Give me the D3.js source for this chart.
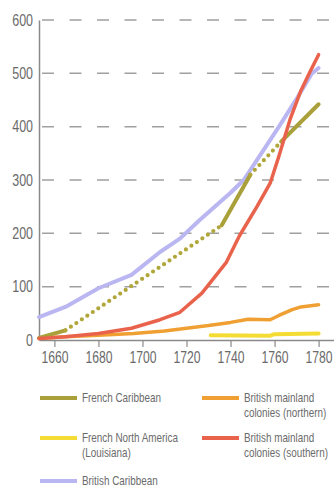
<!DOCTYPE html>
<html>
<head>
<meta charset="utf-8">
<script src="https://cdn.jsdelivr.net/npm/d3@7"></script>
<style>
html,body{margin:0;padding:0;background:#fff;}
svg{display:block;}
text{font-family:"Liberation Sans",Arial,sans-serif;fill:#6a6a6a;}
</style>
</head>
<body>
<svg id="chart" width="334" height="488"></svg>
<script>
// ---- data (slaves imported, thousands) ----
const yTicks = [0, 100, 200, 300, 400, 500, 600];
const xTicks = [1660, 1680, 1700, 1720, 1740, 1760, 1780];

const fcYears  = [1653, 1665, 1736, 1749, 1763, 1780];
const fcValues = [4, 18, 215, 310, 372, 442];
const fcStyles = ["solid", "dotted", "solid", "dotted", "solid"];

const fnaYears  = [1731, 1758, 1760, 1780];
const fnaValues = [9, 8, 11, 12];

const bcYears  = [1653, 1665, 1680, 1695, 1708, 1717, 1726, 1735, 1740, 1746, 1754, 1762, 1770, 1777, 1780];
const bcValues = [43, 62, 97, 122, 165, 190, 225, 258, 276, 300, 350, 400, 452, 500, 510];

const bnYears  = [1653, 1665, 1680, 1696, 1710, 1720, 1730, 1740, 1748, 1758, 1762, 1768, 1772, 1780];
const bnValues = [3, 6, 9, 12, 17, 22, 27, 33, 39, 38, 46, 57, 62, 66];

const bsYears  = [1653, 1665, 1680, 1695, 1708, 1717, 1727, 1738, 1744, 1752, 1758, 1762, 1767, 1772, 1776, 1780];
const bsValues = [3, 6, 12, 22, 38, 52, 88, 145, 195, 250, 294, 345, 413, 468, 502, 535];

const legendLabels = [
  ["French Caribbean"],
  ["British mainland", "colonies (northern)"],
  ["French North America", "(Louisiana)"],
  ["British mainland", "colonies (southern)"],
  ["British Caribbean"]
];
const colors = {
  fc: "#a9a03a",
  fna: "#f5dc35",
  bc: "#bab6f2",
  bn: "#f0a032",
  bs: "#e9634c"
};

// ---- drawing ----
const svg = d3.select("#chart");
const x = d3.scaleLinear().domain([1653, 1787]).range([39, 334]);
const y = d3.scaleLinear().domain([0, 600]).range([340, 20]);

// condense text horizontally (narrow typeface look)
function condense(sel, f) {
  sel.each(function () {
    const t = d3.select(this);
    const x0 = +t.attr("x") || 0;
    t.attr("x", x0 / f).attr("transform", `scale(${f},1)`);
  });
}

// gridlines
svg.append("g").selectAll("line").data(yTicks.filter(d => d > 0)).join("line")
  .attr("x1", 42).attr("x2", 334)
  .attr("y1", d => y(d)).attr("y2", d => y(d))
  .attr("stroke", "#a0a0a0").attr("stroke-width", 1.5)
  .attr("stroke-dasharray", "12,15.5");

// y axis
const yAxis = svg.append("g").attr("transform", "translate(39,0)")
  .call(d3.axisLeft(y).tickValues(yTicks).tickSize(0).tickPadding(6));
yAxis.select(".domain").attr("stroke", "#8a8a8a").attr("stroke-width", 1.5);
yAxis.selectAll("text").style("font-size", "16px")
  .style("font-family", "'Liberation Sans',Arial,sans-serif").attr("fill", "#6a6a6a");
condense(yAxis.selectAll("text"), 0.78);

// x axis
const xAxis = svg.append("g").attr("transform", "translate(0,340)")
  .call(d3.axisBottom(x).tickValues(xTicks).tickFormat(d3.format("d")).tickSize(7).tickSizeOuter(0).tickPadding(5));
xAxis.select(".domain").attr("stroke", "#8a8a8a").attr("stroke-width", 1.5);
xAxis.selectAll(".tick line").attr("stroke", "#8a8a8a").attr("stroke-width", 1.2);
xAxis.selectAll("text").style("font-size", "16px")
  .style("font-family", "'Liberation Sans',Arial,sans-serif").attr("fill", "#6a6a6a");
condense(xAxis.selectAll("text"), 0.76);

const line = d3.line().x(d => x(d[0])).y(d => y(d[1]));
const zip = (a, b) => a.map((v, i) => [v, b[i]]);

function drawSeries(years, values, color, width) {
  svg.append("path").datum(zip(years, values))
    .attr("d", line).attr("fill", "none")
    .attr("stroke", color).attr("stroke-width", width)
    .attr("stroke-linejoin", "round").attr("stroke-linecap", "round");
}

drawSeries(bcYears, bcValues, colors.bc, 4);
drawSeries(fnaYears, fnaValues, colors.fna, 4);
drawSeries(bnYears, bnValues, colors.bn, 3.5);

// French Caribbean with dotted gaps
const fcPts = zip(fcYears, fcValues);
fcStyles.forEach((s, i) => {
  const seg = [fcPts[i], fcPts[i + 1]];
  const p = svg.append("path").datum(seg).attr("d", line).attr("fill", "none")
    .attr("stroke", colors.fc).attr("stroke-linecap", "round");
  if (s === "dotted") {
    p.attr("stroke-width", 4.2).attr("stroke-dasharray", "0,6.6").attr("stroke", "#b0a63a");
  } else {
    p.attr("stroke-width", 4);
  }
});

drawSeries(bsYears, bsValues, colors.bs, 3.5);

// legend
const legendItems = [
  {c: colors.fc, lab: legendLabels[0], lx: 40, ly: 398},
  {c: colors.bn, lab: legendLabels[1], lx: 202, ly: 398},
  {c: colors.fna, lab: legendLabels[2], lx: 40, ly: 438},
  {c: colors.bs, lab: legendLabels[3], lx: 202, ly: 438},
  {c: colors.bc, lab: legendLabels[4], lx: 40, ly: 481}
];
const lg = svg.append("g");
legendItems.forEach(it => {
  lg.append("line").attr("x1", it.lx).attr("x2", it.lx + 37)
    .attr("y1", it.ly).attr("y2", it.ly)
    .attr("stroke", it.c).attr("stroke-width", 4);
  it.lab.forEach((s, i) => {
    lg.append("text").attr("x", it.lx + 42).attr("y", it.ly + 4.5 + i * 14.5)
      .style("font-size", "13px").attr("fill", "#6a6a6a").text(s);
  });
});
condense(lg.selectAll("text"), 0.76);
</script>
</body>
</html>
